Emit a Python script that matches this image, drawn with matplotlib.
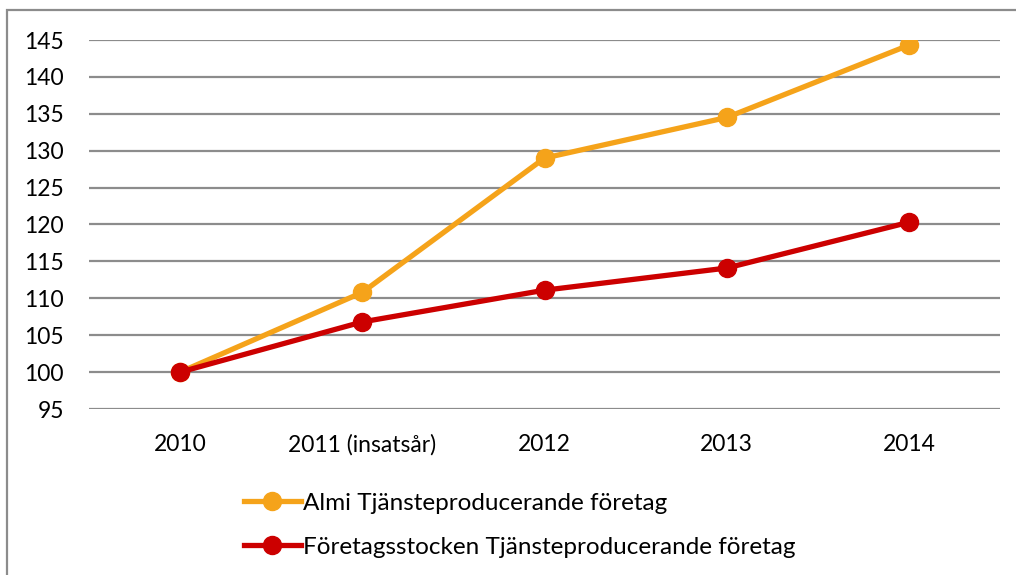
import matplotlib
matplotlib.use("Agg")
import matplotlib.pyplot as plt
from matplotlib.lines import Line2D
from matplotlib.patches import Rectangle

categories = ["2010", "2011 (insatsår)", "2012", "2013", "2014"]
almi = [100, 110.8, 129.0, 134.5, 144.3]
stocken = [100, 106.8, 111.1, 114.1, 120.3]
yticks = [95, 100, 105, 110, 115, 120, 125, 130, 135, 140, 145]
labels = ["Almi Tjänsteproducerande företag", "Företagsstocken Tjänsteproducerande företag"]

plt.rcParams['font.family'] = ['Lato', 'DejaVu Sans']
W, H = 1016, 575
fig = plt.figure(figsize=(W/100, H/100), dpi=100)
ax = fig.add_axes([89/W, 1-409/H, (1000-89)/W, (409-40)/H])

orange = "#F5A31A"
red = "#CC0000"
x = [i + 0.5 for i in range(len(categories))]
ax.plot(x, almi, color=orange, lw=3.8, marker='o', ms=13, zorder=3, solid_capstyle='round')
ax.plot(x, stocken, color=red, lw=3.8, marker='o', ms=13, zorder=4, solid_capstyle='round')

ax.set_xlim(0, 5)
ax.set_ylim(95, 145)
ax.set_yticks(yticks)
ax.set_xticks(x)
ax.set_xticklabels(categories)
ax.grid(axis='y', color='#8c8c8c', lw=1.6)
ax.set_axisbelow(True)
for s in ax.spines.values():
    s.set_visible(False)
ax.tick_params(axis='both', length=0, labelsize=16.5, colors='black')
ax.tick_params(axis='y', pad=18)
ax.tick_params(axis='x', pad=18)

handles = [Line2D([], [], color=orange, lw=3.8, marker='o', ms=13),
           Line2D([], [], color=red, lw=3.8, marker='o', ms=13)]
fig.legend(handles, labels, loc='upper left', bbox_to_anchor=(234/W, 1-483/H),
           frameon=False, fontsize=17.5, handlelength=2.35, handletextpad=0.08,
           labelspacing=0.95, borderaxespad=0)

fig.patches.append(Rectangle((7/W, -0.1), 1.2, 1-10/H+0.1, transform=fig.transFigure,
                             fill=False, edgecolor='#8c8c8c', lw=1.6))
fig.savefig("out.png", dpi=100)
